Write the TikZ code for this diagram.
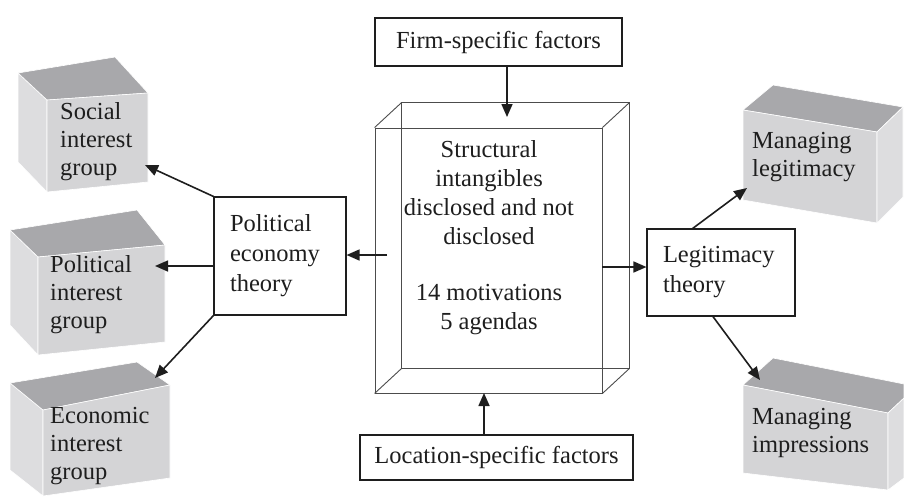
\documentclass[tikz,border=0pt]{standalone}
\usepackage{fontspec}
\setmainfont{Liberation Serif}
\usetikzlibrary{arrows.meta,calc}
\definecolor{topc}{RGB}{168,168,171}
\definecolor{frontc}{RGB}{212,212,214}
\definecolor{sidec}{RGB}{221,221,223}
\definecolor{ink}{RGB}{30,30,30}
\begin{document}
\begin{tikzpicture}[x=1pt,y=-1pt,
  wbox/.style={draw=ink, line width=1.1pt, fill=white, inner sep=0pt,
    font=\fontsize{24.5}{30}\selectfont, text=ink},
  txt/.style={font=\fontsize{24.5}{28}\selectfont, align=left, inner sep=0pt, text=ink},
  arr/.style={-{Triangle[length=13pt,width=11pt]}, line width=1.6pt, draw=ink},
  cub/.style={draw=black!70, line width=0.9pt},
  gtop/.style={fill=topc, draw=white, line width=0.6pt},
  gfront/.style={fill=frontc, draw=white, line width=0.6pt},
  gside/.style={fill=sidec, draw=white, line width=0.6pt}]
\useasboundingbox (0,0) rectangle (904,496);

% ---- gray blocks, left column ----
\fill[gside] (18,73) -- (47,100) -- (47,192) -- (18,162) -- cycle;
\fill[gtop] (18,73) -- (115,57) -- (148,93) -- (47,100) -- cycle;
\fill[gfront] (47,100) -- (148,93) -- (148,182) -- (47,192) -- cycle;
\node[txt, anchor=west] (sig) at (60,142) {Social\\interest\\group};

\fill[gside] (10,230) -- (38,257) -- (38,355) -- (10,325) -- cycle;
\fill[gtop] (10,230) -- (137,210) -- (165,245) -- (38,257) -- cycle;
\fill[gfront] (38,257) -- (165,245) -- (165,342) -- (38,355) -- cycle;
\node[txt, anchor=west] (pig) at (50,295) {Political\\interest\\group};

\fill[gside] (10,383) -- (43,410) -- (43,496) -- (10,470) -- cycle;
\fill[gtop] (10,383) -- (137,362) -- (170,385) -- (43,410) -- cycle;
\fill[gfront] (43,410) -- (170,385) -- (170,478) -- (43,496) -- cycle;
\node[txt, anchor=west] (eig) at (50,446) {Economic\\interest\\group};

% ---- gray blocks, right column ----
\fill[gtop] (743,110) -- (773,85) -- (903,107) -- (877,132) -- cycle;
\fill[gfront] (743,110) -- (877,132) -- (877,223) -- (743,200) -- cycle;
\fill[gside] (877,132) -- (903,107) -- (903,197) -- (877,223) -- cycle;
\node[txt, anchor=west] (ml) at (752,157) {Managing\\legitimacy};

\fill[gtop] (743,385) -- (773,358) -- (904,384) -- (904,398) -- (888,413) -- cycle;
\fill[gfront] (743,385) -- (888,413) -- (888,490) -- (743,473) -- cycle;
\fill[gside] (888,413) -- (904,398) -- (904,478) -- (888,490) -- cycle;
\node[txt, anchor=west] (mi) at (752,433) {Managing\\impressions};

% ---- central wireframe cuboid ----
\node[cub, draw, minimum width=227pt, minimum height=265pt, inner sep=0pt] (front) at (488.5,260.5) {};
\draw[cub] ([shift={(27,-25)}]front.north west) rectangle ([shift={(27,-25)}]front.south east);
\draw[cub] (front.north west) -- ++(27,-25);
\draw[cub] (front.north east) -- ++(27,-25);
\draw[cub] (front.south west) -- ++(27,-25);
\draw[cub] (front.south east) -- ++(27,-25);
\node[txt, align=center, font=\fontsize{24.5}{29}\selectfont] (core) at (489,238)
  {Structural\\intangibles\\disclosed and not\\disclosed\\[27pt]14 motivations\\5 agendas};

% ---- white boxes ----
\node[wbox, minimum width=247pt, minimum height=48pt] (firm) at (498.5,42) {Firm-specific factors};
\node[wbox, minimum width=273pt, minimum height=45pt] (loc) at (496.5,457.5) {Location-specific factors};
\node[wbox, minimum width=132pt, minimum height=118pt, text width=100pt, align=left] (pet) at (280,256)
  {Political\\economy\\theory};
\node[wbox, minimum width=148pt, minimum height=87pt, text width=116pt, align=left] (lt) at (721,272.5)
  {Legitimacy\\theory};

% ---- connectors ----
\coordinate (ftip) at (507,117);
\coordinate (ltip) at (484,393);
\coordinate (cl) at (387,255);
\coordinate (cr) at (602,267);
\coordinate (sigtip) at (145,165);
\coordinate (pigtip) at (155,266);
\coordinate (eigtip) at (155,378);
\coordinate (mltip) at (747,188);
\coordinate (mitip) at (760,380);

\draw[arr] (firm.south -| ftip) -- (ftip);
\draw[arr] (loc.north -| ltip) -- (ltip);
\draw[arr] (cl) -- (pet.east |- cl);
\draw[arr] (cr) -- (lt.west |- cr);
\draw[arr] (pet.north west) -- (sigtip);
\draw[arr] (pet.west |- pigtip) -- (pigtip);
\draw[arr] (pet.south west) -- (eigtip);
\draw[arr] ($(lt.north west)!0.31!(lt.north east)$) -- (mltip);
\draw[arr] ($(lt.south west)!0.446!(lt.south east)$) -- (mitip);
\end{tikzpicture}
\end{document}
